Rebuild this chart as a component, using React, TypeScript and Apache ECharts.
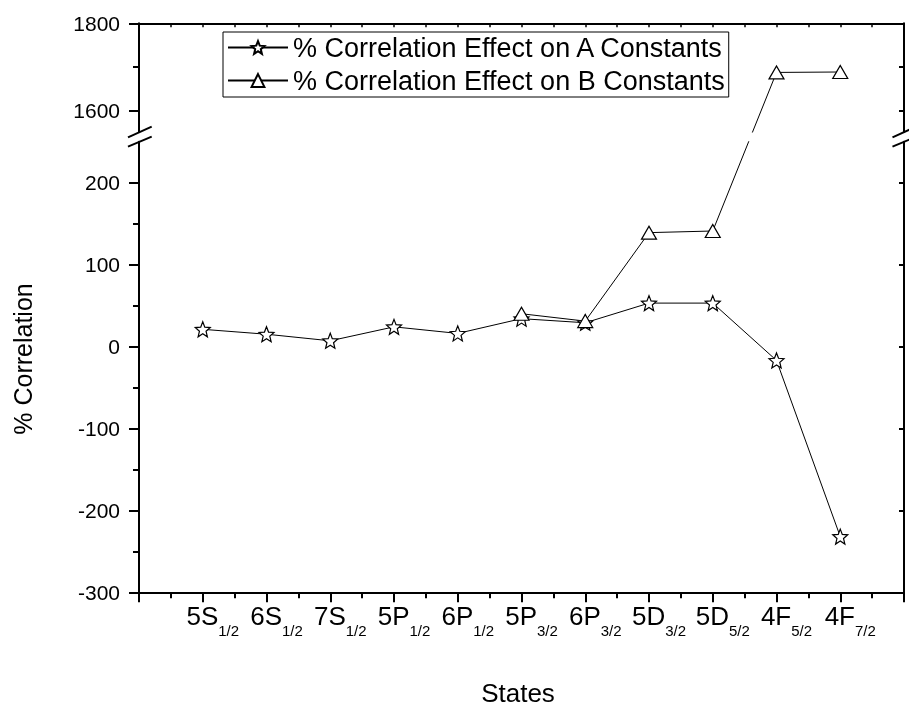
import React, { useEffect, useRef } from 'react';
import * as echarts from 'echarts';

const stateMain = ['5S', '6S', '7S', '5P', '6P', '5P', '6P', '5D', '5D', '4F', '4F'];
const stateSub = ['1/2', '1/2', '1/2', '1/2', '1/2', '3/2', '3/2', '3/2', '5/2', '5/2', '7/2'];
const seriesAName = '% Correlation Effect on A Constants';
const seriesBName = '% Correlation Effect on B Constants';
const correlationA = [21, 15, 7, 24, 16, 34, 29, 53, 53, -17, -232];
const correlationB: (number | null)[] = [null, null, null, null, null, 40, 31, 139, 141, 1687, 1688];
const lowerRange = [-300, 250];
const upperRange = [1550, 1800];
const lowerTicks = [-300, -200, -100, 0, 100, 200];
const lowerMinorTicks = [-250, -150, -50, 50, 150];
const upperTicks = [1600, 1800];
const upperMinorTicks = [1700];
const xLabel = 'States';
const yLabel = '% Correlation';

const FONT = '"Liberation Sans", Arial, Helvetica, sans-serif';
const STAR = 'path://M50 0 L62.9 32.3 L97.55 34.55 L70.9 56.9 L79.39 90.45 L50 72 L20.61 90.45 L29.1 56.9 L2.45 34.55 L37.1 32.3 Z';
const black = '#000';

export default function App() {
  const ref = useRef<HTMLDivElement>(null);
  useEffect(() => {
    if (!ref.current) return;
    const chart = echarts.init(ref.current, null, { renderer: 'svg' });

    const aData = correlationA.map((v, i) => [i + 1, v]);
    const bLow: number[][] = [];
    const bHigh: number[][] = [];
    correlationB.forEach((v, i) => {
      if (v == null) return;
      if (v <= lowerRange[1]) bLow.push([i + 1, v]);
      else if (v >= upperRange[0]) bHigh.push([i + 1, v]);
    });

    const lineCommon = {
      type: 'line',
      lineStyle: { color: black, width: 1 },
      itemStyle: { color: '#fff', borderColor: black, borderWidth: 1.2 },
      emphasis: { disabled: true },
      clip: true,
      z: 3,
    };

    const baseSeries: any[] = [
      { ...lineCommon, name: seriesAName, xAxisIndex: 1, yAxisIndex: 3, data: aData, symbol: STAR, symbolSize: 15 },
      { ...lineCommon, name: seriesBName, xAxisIndex: 1, yAxisIndex: 3, data: bLow, symbol: 'triangle', symbolSize: [15, 13] },
      { ...lineCommon, name: seriesBName, xAxisIndex: 0, yAxisIndex: 0, data: bHigh, symbol: 'triangle', symbolSize: [15, 13] },
    ];

    const tickStyle = { color: black, width: 2 };
    const hiddenLine = { show: false };
    const numFmt = (v: number) => String(v);

    const option: any = {
      animation: false,
      textStyle: { fontFamily: FONT, color: black },
      grid: [
        { left: 139, right: 5, top: 23.3, height: 108.7 },
        { left: 139, right: 5, top: 141.7, bottom: 116.7 },
      ],
      legend: {
        orient: 'vertical',
        left: 223,
        top: 32,
        data: [seriesAName, seriesBName],
        itemWidth: 60,
        itemHeight: 16,
        itemGap: 6,
        padding: [2, 4, 3, 4],
        borderColor: black,
        borderWidth: 1,
        borderRadius: 0,
        textStyle: { fontSize: 27, fontFamily: FONT, color: black },
        selectedMode: false,
      },
      xAxis: [
        {
          gridIndex: 0, type: 'value', position: 'top', min: 0, max: 12, interval: 0.5,
          axisLine: { show: true, onZero: false, lineStyle: { color: black, width: 2 } },
          axisTick: { show: true, inside: true, length: 4, lineStyle: { color: black, width: 1.5 } },
          axisLabel: { show: false },
          splitLine: { show: false },
        },
        {
          gridIndex: 1, type: 'value', position: 'bottom', min: 0, max: 12, interval: 1,
          axisLine: { show: true, onZero: false, lineStyle: { color: black, width: 2 } },
          axisTick: { show: true, inside: false, length: 10, lineStyle: tickStyle },
          minorTick: { show: true, splitNumber: 2, length: 6, lineStyle: tickStyle },
          splitLine: { show: false },
          axisLabel: {
            margin: 9,
            showMinLabel: true,
            showMaxLabel: true,
            formatter: (v: number) => {
              const i = Math.round(v) - 1;
              if (i < 0 || i >= stateMain.length) return '';
              return `{p|\u00a0}{m|${stateMain[i]}}{s|${stateSub[i]}}`;
            },
            rich: {
              p: { width: 20, fontSize: 15, lineHeight: 16 },
              m: { fontSize: 26, lineHeight: 30, fontFamily: FONT, color: black },
              s: { fontSize: 15, lineHeight: 16, padding: [28, 0, 0, 0], fontFamily: FONT, color: black },
            },
          },
        },
      ],
      yAxis: [
        {
          gridIndex: 0, type: 'value', position: 'left', min: upperRange[0], max: upperRange[1],
          axisLine: { show: true, onZero: false, lineStyle: { color: black, width: 2 } },
          axisTick: { show: true, length: 10, lineStyle: tickStyle, customValues: upperTicks },
          axisLabel: { fontSize: 21, margin: 19, color: black, fontFamily: FONT, customValues: upperTicks, formatter: numFmt },
          splitLine: { show: false },
        },
        {
          gridIndex: 0, type: 'value', position: 'left', min: upperRange[0], max: upperRange[1],
          axisLine: hiddenLine,
          axisTick: { show: true, length: 6, lineStyle: tickStyle, customValues: upperMinorTicks },
          axisLabel: { show: false },
          splitLine: { show: false },
        },
        {
          gridIndex: 0, type: 'value', position: 'right', min: upperRange[0], max: upperRange[1],
          axisLine: { show: true, onZero: false, lineStyle: { color: black, width: 2 } },
          axisTick: { show: true, inside: true, length: 5, lineStyle: tickStyle, customValues: [...upperTicks, ...upperMinorTicks] },
          axisLabel: { show: false },
          splitLine: { show: false },
        },
        {
          gridIndex: 1, type: 'value', position: 'left', min: lowerRange[0], max: lowerRange[1],
          axisLine: { show: true, onZero: false, lineStyle: { color: black, width: 2 } },
          axisTick: { show: true, length: 10, lineStyle: tickStyle, customValues: lowerTicks },
          axisLabel: { fontSize: 21, margin: 19, color: black, fontFamily: FONT, customValues: lowerTicks, formatter: numFmt },
          splitLine: { show: false },
        },
        {
          gridIndex: 1, type: 'value', position: 'left', min: lowerRange[0], max: lowerRange[1],
          axisLine: hiddenLine,
          axisTick: { show: true, length: 6, lineStyle: tickStyle, customValues: lowerMinorTicks },
          axisLabel: { show: false },
          splitLine: { show: false },
        },
        {
          gridIndex: 1, type: 'value', position: 'right', min: lowerRange[0], max: lowerRange[1],
          axisLine: { show: true, onZero: false, lineStyle: { color: black, width: 2 } },
          axisTick: { show: true, inside: true, length: 5, lineStyle: tickStyle, customValues: lowerTicks },
          axisLabel: { show: false },
          splitLine: { show: false },
        },
      ],
      graphic: [
        { type: 'line', shape: { x1: 128, y1: 137.3, x2: 151.7, y2: 126.7 }, style: { stroke: black, lineWidth: 2 } },
        { type: 'line', shape: { x1: 128, y1: 146.7, x2: 151.7, y2: 136.7 }, style: { stroke: black, lineWidth: 2 } },
        { type: 'line', shape: { x1: 892.5, y1: 137.3, x2: 916.2, y2: 126.7 }, style: { stroke: black, lineWidth: 2 } },
        { type: 'line', shape: { x1: 892.5, y1: 146.7, x2: 916.2, y2: 136.7 }, style: { stroke: black, lineWidth: 2 } },
        {
          type: 'text', x: 23, y: 359, rotation: Math.PI / 2,
          style: { text: yLabel, fontSize: 25, fontFamily: FONT, fill: black, textAlign: 'center', textVerticalAlign: 'middle' },
        },
        {
          type: 'text', x: 518, y: 693,
          style: { text: xLabel, fontSize: 26, fontFamily: FONT, fill: black, textAlign: 'center', textVerticalAlign: 'middle' },
        },
      ],
      series: baseSeries,
    };

    chart.setOption(option);

    // connector of series B across the axis break, using the library's scales
    if (bLow.length && bHigh.length) {
      const lastLow = bLow[bLow.length - 1];
      const firstHigh = bHigh[0];
      const pHigh = chart.convertToPixel({ xAxisIndex: 0, yAxisIndex: 0 } as any, firstHigh) as number[];
      const pLow = chart.convertToPixel({ xAxisIndex: 1, yAxisIndex: 3 } as any, lastLow) as number[];
      const highInLow = chart.convertFromPixel({ xAxisIndex: 1, yAxisIndex: 3 } as any, pHigh) as number[];
      const lowInHigh = chart.convertFromPixel({ xAxisIndex: 0, yAxisIndex: 0 } as any, pLow) as number[];
      const conn = {
        type: 'line', name: seriesBName, showSymbol: false, symbol: 'none', clip: true,
        lineStyle: { color: black, width: 1 }, emphasis: { disabled: true }, z: 2,
      };
      chart.setOption({
        series: [
          ...baseSeries,
          { ...conn, xAxisIndex: 1, yAxisIndex: 3, data: [lastLow, [firstHigh[0], highInLow[1]]] },
          { ...conn, xAxisIndex: 0, yAxisIndex: 0, data: [[lastLow[0], lowInHigh[1]], firstHigh] },
        ],
      });
    }

    return () => chart.dispose();
  }, []);

  return <div ref={ref} style={{ position: 'fixed', left: 0, top: 0, width: 909, height: 709 }} />;
}
